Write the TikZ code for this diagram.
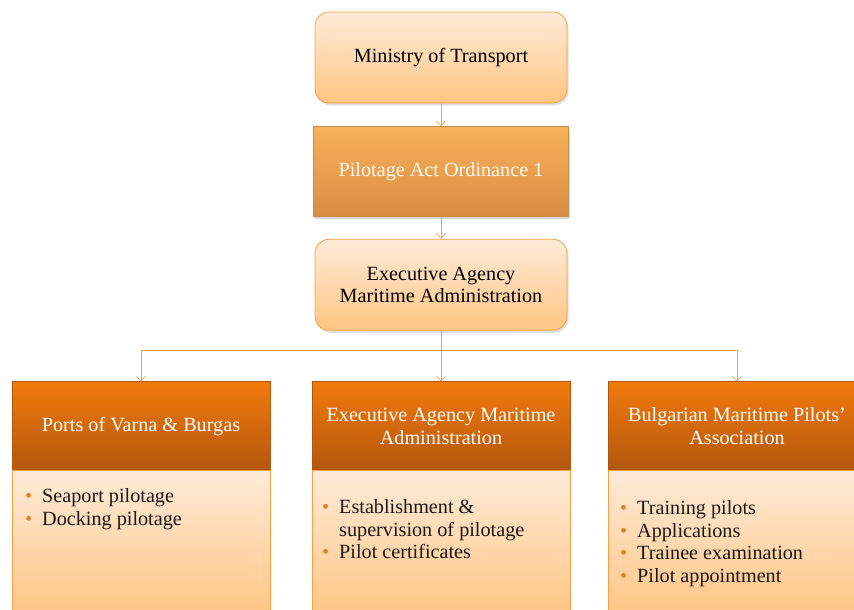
\documentclass[tikz,border=0pt]{standalone}
\usepackage{fontspec}
\setmainfont{Liberation Serif}
\usetikzlibrary{positioning,shadows,arrows.meta}
\definecolor{lineor}{HTML}{F5A146}
\definecolor{paletop}{HTML}{FFEBD9}
\definecolor{palebot}{HTML}{FFC581}
\definecolor{acttop}{HTML}{F8B25A}
\definecolor{actbot}{HTML}{D98C44}
\definecolor{headtop}{HTML}{F27A0C}
\definecolor{headbot}{HTML}{B3570E}
\definecolor{bulletc}{HTML}{E07F2E}
\tikzset{boxfont/.style={font=\fontsize{20.2}{22.5}\selectfont}}
\tikzset{softbox/.style={boxfont, rounded corners=14pt, draw=lineor, line width=0.8pt, top color=paletop, bottom color=palebot, minimum width=252pt, minimum height=91pt, align=center, drop shadow={shadow xshift=1.5pt, shadow yshift=-2.5pt, fill=black!25}}}
\tikzset{actbox/.style={boxfont, draw=acttop!80!black, line width=0.5pt, top color=acttop, bottom color=actbot, text=white!95!orange, minimum width=255pt, minimum height=90pt, align=center, drop shadow={shadow xshift=1.5pt, shadow yshift=-2.5pt, fill=black!30}}}
\tikzset{headbox/.style={boxfont, draw=headbot, line width=0.5pt, top color=headtop, bottom color=headbot, text=white, minimum width=258pt, minimum height=89pt, align=center, outer sep=0pt}}
\tikzset{bodybox/.style={draw=lineor, line width=0.8pt, top color=paletop, bottom color=palebot!95!orange, minimum width=258pt, minimum height=160pt, outer sep=0pt}}
\tikzset{link/.style={draw=lineor, line width=0.7pt, -{Straight Barb[length=5pt,width=9pt]}}}
\tikzset{blist/.style={boxfont, anchor=north west, align=left, inner sep=0pt, text=black!90}}
\newcommand{\blt}{\makebox[17pt][l]{\textcolor{bulletc}{\textbullet}}}

\begin{document}
\begin{tikzpicture}[x=1pt,y=1pt]
\clip (0,0) rectangle (854,-610);
\node[softbox] (mot) at (441,-57.5) {Ministry of Transport};
\node[actbox, below=23pt of mot] (ord) {Pilotage Act Ordinance 1};
\node[softbox, below=22pt of ord] (ema) {Executive Agency\\Maritime Administration};
% three branches
\node[headbox, below=51pt of ema] (hd2) {Executive Agency Maritime\\Administration};
\node[headbox, left=42pt of hd2] (hd1) {Ports of Varna \& Burgas};
\node[headbox, right=38pt of hd2] (hd3) {Bulgarian Maritime Pilots’\\Association};
\node[bodybox, below=0pt of hd1] (bd1) {};
\node[bodybox, below=0pt of hd2] (bd2) {};
\node[bodybox, below=0pt of hd3] (bd3) {};
\node[blist] (l1) at ([xshift=13pt,yshift=-18pt]bd1.north west)
	{\blt Seaport pilotage\\ \blt Docking pilotage};
\node[blist] (l2) at ([xshift=10pt,yshift=-29pt]bd2.north west)
	{\blt Establishment \&\\ \hspace*{17pt}supervision of pilotage\\ \blt Pilot certificates};
\node[blist] (l3) at ([xshift=12pt,yshift=-30pt]bd3.north west)
	{\blt Training pilots\\ \blt Applications\\ \blt Trainee examination\\ \blt Pilot appointment};
% connectors
\draw[link] (mot.south) -- (ord.north);
\draw[link] (ord.south) -- (ema.north);
\coordinate (split) at ([yshift=-20pt]ema.south);
\draw[draw=lineor, line width=0.7pt] (ema.south) -- (split);
\draw[link] (split) -| (hd1.north);
\draw[link] (split) -- (hd2.north);
\draw[link] (split) -| (hd3.north);
\end{tikzpicture}
\end{document}
